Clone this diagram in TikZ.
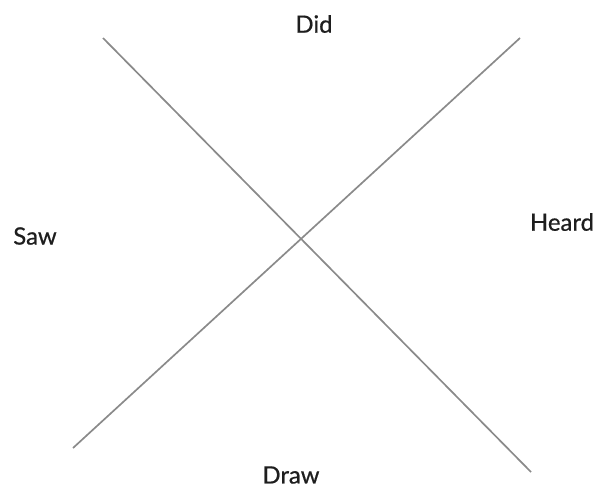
\documentclass[tikz,border=0pt]{standalone}
\usepackage{fontspec}
\setmainfont{Lato}
\newfontfamily\lblfont[FakeBold=0.6]{Lato}
\usepackage{xcolor}
\usetikzlibrary{positioning}
\definecolor{cLine}{HTML}{8A8A8A}
\definecolor{cText}{HTML}{1E1E1E}

\begin{document}
\begin{tikzpicture}[
    x=0.025cm, y=-0.025cm,
    axis/.style={draw=cLine, line width=1.2pt},
    lbl/.style={font=\lblfont\fontsize{17}{20}\selectfont, text=cText, inner sep=0pt},
  ]
  \useasboundingbox (0,0) rectangle (606,487);

  % End points of the two crossing lines
  \coordinate (a1) at (103,38);
  \coordinate (a2) at (531,472);
  \coordinate (b1) at (73,448);
  \coordinate (b2) at (520,38);

  \draw[axis] (a1) -- (a2);
  \draw[axis] (b1) -- (b2);

  % Labels
  \node[lbl] (did)   at (314,24)  {Did};
  \node[lbl] (saw)   at (35,236)  {Saw};
  \node[lbl] (heard) at (562,222) {Heard};
  \node[lbl] (draw)  at (291,475) {Draw};
\end{tikzpicture}
\end{document}
